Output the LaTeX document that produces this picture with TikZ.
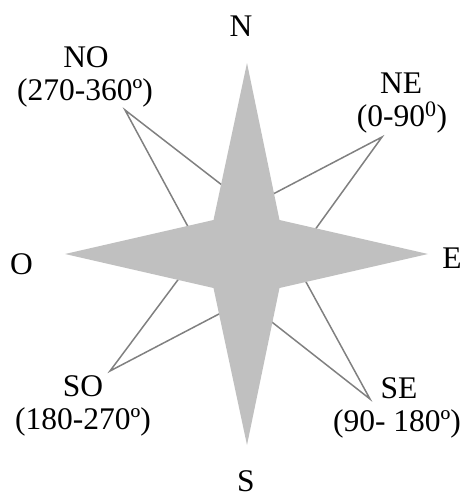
\documentclass[tikz,border=0pt]{standalone}
\usepackage{fontspec}
\setmainfont{Liberation Serif}
\definecolor{starfill}{RGB}{192,192,192}
\definecolor{linegray}{RGB}{128,128,128}
\begin{document}
\begin{tikzpicture}[x=1pt,y=-1pt,
  lbl/.style={anchor=base,inner sep=0pt,font=\fontsize{31.5}{33}\selectfont},
  leader/.style={draw=linegray,line width=1.5pt}]
\useasboundingbox (0,0) rectangle (464,496);
% leader anchor points
\coordinate (pNO) at (125,110);
\coordinate (pNE) at (382,137);
\coordinate (pSO) at (110,371);
\coordinate (pSE) at (370,399);
\coordinate (aNO1) at (240,199);
\coordinate (aNO2) at (199,247);
\coordinate (aNE1) at (254,204);
\coordinate (aNE2) at (304,245);
\coordinate (aSO1) at (192,261);
\coordinate (aSO2) at (240,303);
\coordinate (aSE1) at (294,260);
\coordinate (aSE2) at (254,308);
\draw[leader] (aNO1) -- (pNO) -- (aNO2);
\draw[leader] (aNE1) -- (pNE) -- (aNE2);
\draw[leader] (aSO1) -- (pSO) -- (aSO2);
\draw[leader] (aSE1) -- (pSE) -- (aSE2);
% star
\fill[starfill] (247,63) -- (279.5,220) -- (428,254) -- (279.5,288) -- (247,445)
  -- (213.5,288) -- (65,254) -- (213.5,220) -- cycle;
% labels
\node[lbl] (N) at (241,36) {N};
\node[lbl] (S) at (246,491) {S};
\node[lbl] (O) at (21.5,274) {O};
\node[lbl] (E) at (452,268) {E};
\node[lbl] (NO) at (86,67) {NO};
\node[lbl] (NOd) at (85,100) {(270-360º)};
\node[lbl] (NE) at (401,93) {NE};
\node[lbl] (NEd) at (402,126) {(0-90\textsuperscript{0})};
\node[lbl] (SO) at (83,396) {SO};
\node[lbl] (SOd) at (83,429) {(180-270º)};
\node[lbl] (SE) at (399,398) {SE};
\node[lbl] (SEd) at (397,431) {(90- 180º)};
\end{tikzpicture}
\end{document}
